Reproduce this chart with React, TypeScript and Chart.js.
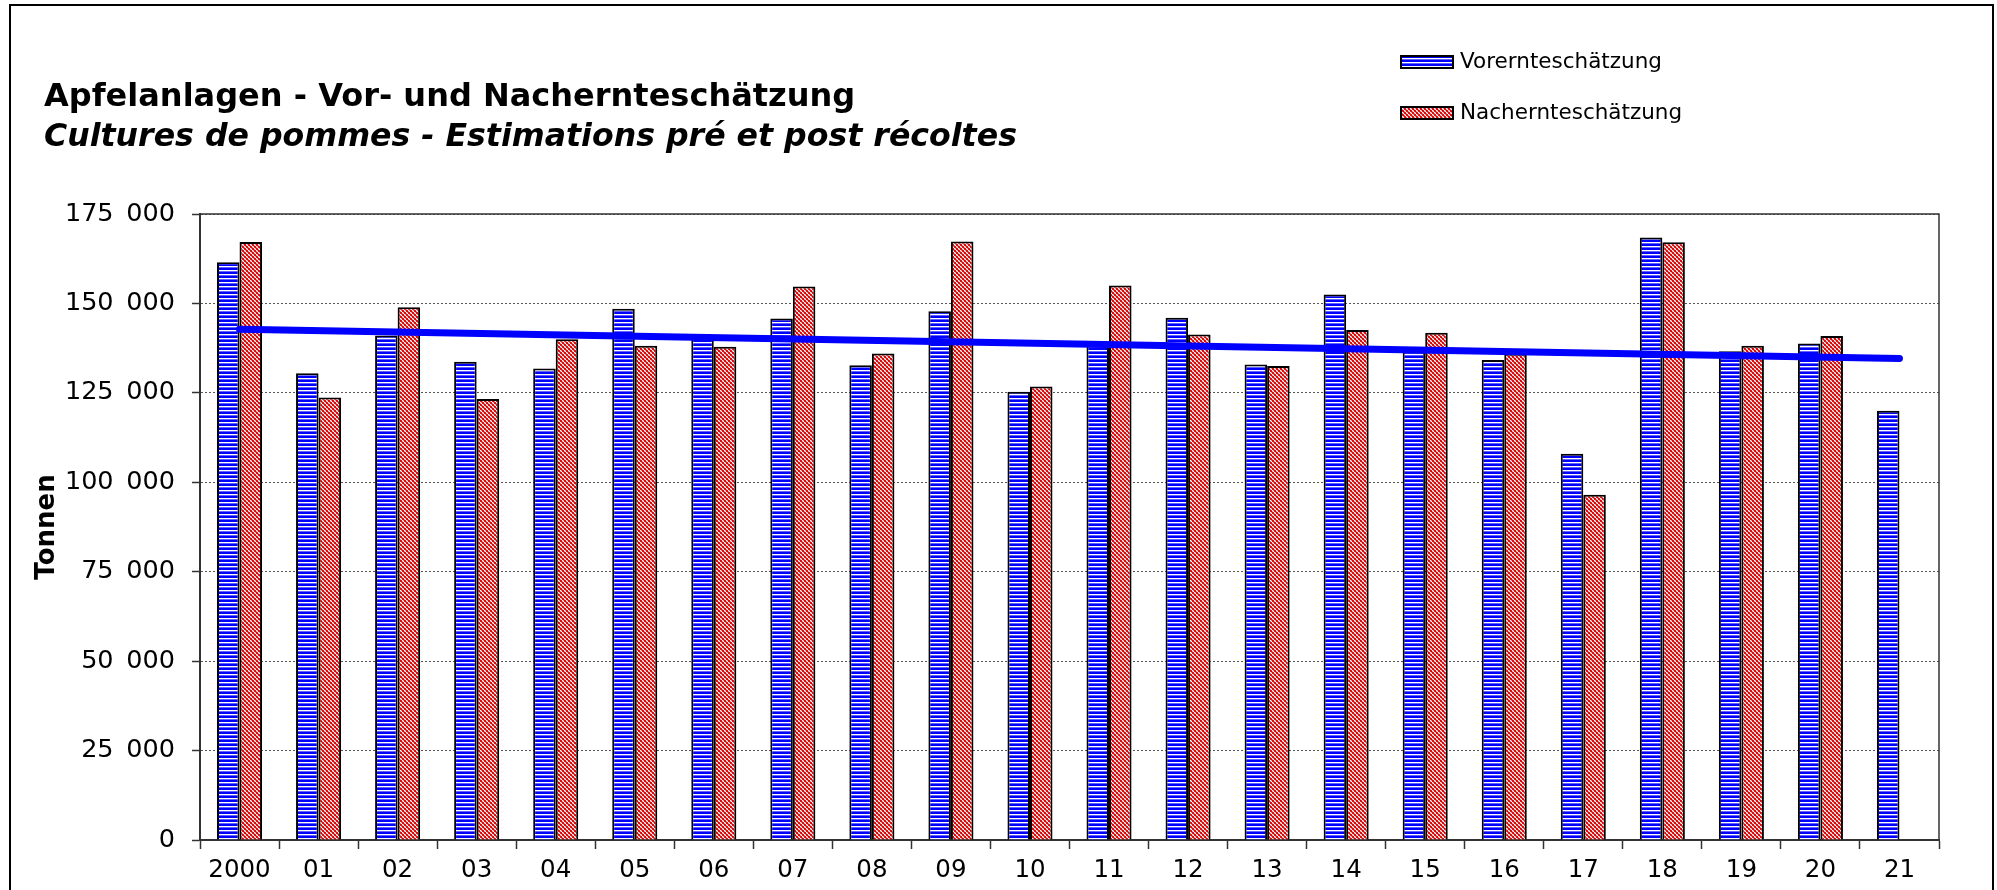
import React, { useEffect, useRef } from 'react';
import { Chart, registerables } from 'chart.js';

Chart.register(...registerables);

const categories = ['2000', '01', '02', '03', '04', '05', '06', '07', '08', '09', '10', '11', '12', '13', '14', '15', '16', '17', '18', '19', '20', '21'];
const vorernte = [161500, 130500, 141000, 133700, 131800, 148500, 140500, 145800, 132700, 147800, 125300, 138500, 146000, 132900, 152500, 136600, 134200, 108000, 168400, 136600, 138800, 120000];
const nachernte = [167200, 123700, 148900, 123300, 140000, 138200, 137900, 154700, 136000, 167300, 126800, 155000, 141300, 132500, 142600, 141800, 135900, 96500, 167100, 138200, 140900, null];
const trendStart = 142750;
const trendEnd = 134600;
const trend = categories.map((_, i) => (i === 0 ? trendStart : i === categories.length - 1 ? trendEnd : null));
// thousands separator is a slightly wide space, as in the original
const yTickLabels = ['0', '25\u2002000', '50\u2002000', '75\u2002000', '100\u2002000', '125\u2002000', '150\u2002000', '175\u2002000'];
const titleLine1 = 'Apfelanlagen - Vor- und Nachernteschätzung';
const titleLine2 = 'Cultures de pommes - Estimations pré et post récoltes';
const legendLabels = ['Vorernteschätzung', 'Nachernteschätzung'];
const yAxisTitle = 'Tonnen';

const FONT = '"DejaVu Sans", Verdana, sans-serif';

function makeBluePattern(): CanvasPattern | string {
  const c = document.createElement('canvas');
  c.width = 4;
  c.height = 4;
  const g = c.getContext('2d');
  if (!g) return '#0000ff';
  const rows = ['#0000ff', '#0000ff', '#ffffff', '#6060ff'];
  rows.forEach((col, i) => {
    g.fillStyle = col;
    g.fillRect(0, i, 4, 1);
  });
  return g.createPattern(c, 'repeat') || '#0000ff';
}

function makeRedPattern(): CanvasPattern | string {
  const c = document.createElement('canvas');
  c.width = 4;
  c.height = 4;
  const g = c.getContext('2d');
  if (!g) return '#ff0000';
  g.fillStyle = '#ffffff';
  g.fillRect(0, 0, 4, 4);
  for (let x = 0; x < 4; x++) {
    for (let y = 0; y < 4; y++) {
      const bx = Math.floor(x / 2);
      const by = Math.floor(y / 2);
      if ((bx + by) % 2 === 0) {
        g.fillStyle = (x + y) % 2 === 0 ? '#d40000' : '#e02020';
        g.fillRect(x, y, 1, 1);
      } else if ((x + y) % 2 === 1) {
        g.fillStyle = '#ef8080';
        g.fillRect(x, y, 1, 1);
      }
    }
  }
  return g.createPattern(c, 'repeat') || '#ff0000';
}

export default function App() {
  const ref = useRef<HTMLCanvasElement | null>(null);

  useEffect(() => {
    const canvas = ref.current;
    if (!canvas) return;
    const blue = makeBluePattern();
    const red = makeRedPattern();

    const decor = {
      id: 'decor',
      afterDraw(chart: any) {
        const ctx = chart.ctx as CanvasRenderingContext2D;
        const a = chart.chartArea;
        ctx.save();
        // plot box
        ctx.strokeStyle = '#333';
        ctx.lineWidth = 1.5;
        ctx.beginPath();
        ctx.moveTo(a.left, a.top);
        ctx.lineTo(a.right, a.top);
        ctx.lineTo(a.right, a.bottom);
        ctx.stroke();
        // outer frame
        ctx.strokeStyle = '#000';
        ctx.lineWidth = 2;
        ctx.beginPath();
        ctx.moveTo(10, 892);
        ctx.lineTo(10, 5);
        ctx.lineTo(1993, 5);
        ctx.lineTo(1993, 892);
        ctx.stroke();
        // title
        ctx.fillStyle = '#000';
        ctx.textAlign = 'left';
        ctx.textBaseline = 'alphabetic';
        ctx.font = `bold 32px ${FONT}`;
        ctx.fillText(titleLine1, 44, 106);
        ctx.font = `italic bold 31.6px ${FONT}`;
        ctx.fillText(titleLine2, 44, 146);
        // legend
        const fills = [blue, red];
        const ys = [56, 107];
        legendLabels.forEach((lab, i) => {
          ctx.fillStyle = fills[i] as any;
          ctx.fillRect(1401, ys[i], 52, 12);
          ctx.strokeStyle = '#000';
          ctx.lineWidth = 2;
          ctx.strokeRect(1401, ys[i], 52, 12);
          ctx.fillStyle = '#000';
          ctx.font = `21.5px ${FONT}`;
          ctx.textBaseline = 'middle';
          ctx.fillText(lab, 1460, ys[i] + 6);
        });
        ctx.restore();
      },
    };

    const chart = new Chart(canvas, {
      type: 'bar',
      data: {
        labels: categories,
        datasets: [
          {
            type: 'line',
            label: 'Trend',
            data: trend,
            borderColor: '#0000ff',
            borderWidth: 7,
            pointRadius: 0,
            spanGaps: true,
            borderCapStyle: 'round',
            order: 0,
          } as any,
          {
            label: legendLabels[0],
            data: vorernte,
            backgroundColor: blue as any,
            borderColor: '#000',
            borderWidth: 2,
            categoryPercentage: 0.57,
            barPercentage: 1.0,
            order: 1,
          },
          {
            label: legendLabels[1],
            data: nachernte,
            backgroundColor: red as any,
            borderColor: '#000',
            borderWidth: 2,
            categoryPercentage: 0.57,
            barPercentage: 1.0,
            order: 1,
          },
        ],
      },
      options: {
        responsive: false,
        animation: false,
        events: [],
        layout: { padding: { left: 28, top: 214, right: 58, bottom: 0 } },
        plugins: {
          legend: { display: false },
          title: { display: false },
          tooltip: { enabled: false },
        },
        scales: {
          x: {
            grid: {
              offset: true,
              drawOnChartArea: false,
              drawTicks: true,
              tickLength: 9,
              tickColor: '#333',
              tickWidth: 1.5,
            },
            border: { display: true, color: '#333', width: 2 },
            ticks: {
              font: { family: FONT, size: 24.5 },
              color: '#000',
              padding: 7,
              maxRotation: 0,
              autoSkip: false,
            },
            afterFit: (s: any) => {
              s.height = 50;
            },
          },
          y: {
            min: 0,
            max: 175000,
            ticks: {
              stepSize: 25000,
              callback: (v: any) => yTickLabels[Math.round(Number(v) / 25000)],
              font: { family: FONT, size: 25.5 },
              color: '#000',
              padding: 17,
            },
            grid: {
              color: '#555',
              lineWidth: 1,
              tickLength: 8,
              tickColor: '#333',
              tickWidth: 1.5,
              tickBorderDash: [],
            },
            border: { display: true, color: '#333', width: 2, dash: [2, 2] },
            title: {
              display: true,
              text: yAxisTitle,
              font: { family: FONT, size: 26, weight: 'bold' },
              color: '#000',
              padding: { top: 4, bottom: 4 },
            },
            afterFit: (s: any) => {
              s.width = 172;
            },
          },
        },
      } as any,
      plugins: [decor],
    });
    return () => chart.destroy();
  }, []);

  return (
    <div style={{ position: 'absolute', left: 0, top: 0, width: 1997, height: 890, background: '#fff' }}>
      <canvas ref={ref} width={1997} height={890} style={{ display: 'block' }} />
    </div>
  );
}
